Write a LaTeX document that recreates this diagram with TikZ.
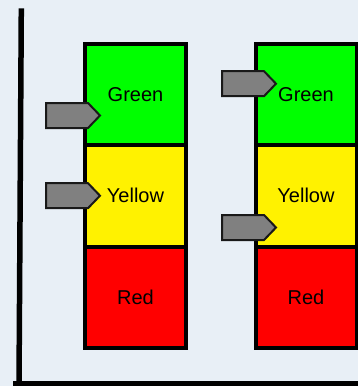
\documentclass[tikz,border=0pt]{standalone}
\usepackage{fontspec}
\setmainfont{Liberation Sans}
\definecolor{bg}{RGB}{232,239,246}
\definecolor{markerfill}{RGB}{128,128,128}
\definecolor{markerline}{RGB}{25,25,25}
\begin{document}
\begin{tikzpicture}[x=1pt,y=-1pt,
  cell/.style={draw=black, line width=4pt, minimum width=101pt, minimum height=101.5pt,
    inner sep=0pt, text height=14.3pt, text depth=0pt,
    font=\fontsize{20}{24}\selectfont},
  marker/.pic={\draw[fill=markerfill, draw=markerline, line width=2pt, line join=miter]
    (0,-12.5) -- (42,-12.5) -- (54,0) -- (42,12.5) -- (0,12.5) -- cycle;},
  axisline/.style={line width=5.5pt, draw=black}]
% background
\fill[bg] (0,0) rectangle (358,386);
\useasboundingbox (0,0) rectangle (358,386);

% axes
\coordinate (ytop) at (21.3,8.3);
\coordinate (origin) at (19,386);
\coordinate (xstart) at (13,383.5);
\coordinate (xend) at (360,383.5);
\draw[axisline] (ytop) -- (origin);
\draw[axisline] (xstart) -- (xend);

% left column
\node[cell, fill=green] (lg) at (135.5,94.25) {Green};
\node[cell, fill=yellow] (ly) at (135.5,195.75) {Yellow};
\node[cell, fill=red] (lr) at (135.5,297.25) {Red};

% right column
\node[cell, fill=green] (rg) at (306,94.25) {Green};
\node[cell, fill=yellow] (ry) at (306,195.75) {Yellow};
\node[cell, fill=red] (rr) at (306,297.25) {Red};

% markers
\pic (lgm) at (46,115.5) {marker};
\pic (lym) at (46,195.7) {marker};
\pic (rgm) at (222,83.7) {marker};
\pic (rym) at (222,227.5) {marker};
\end{tikzpicture}
\end{document}
